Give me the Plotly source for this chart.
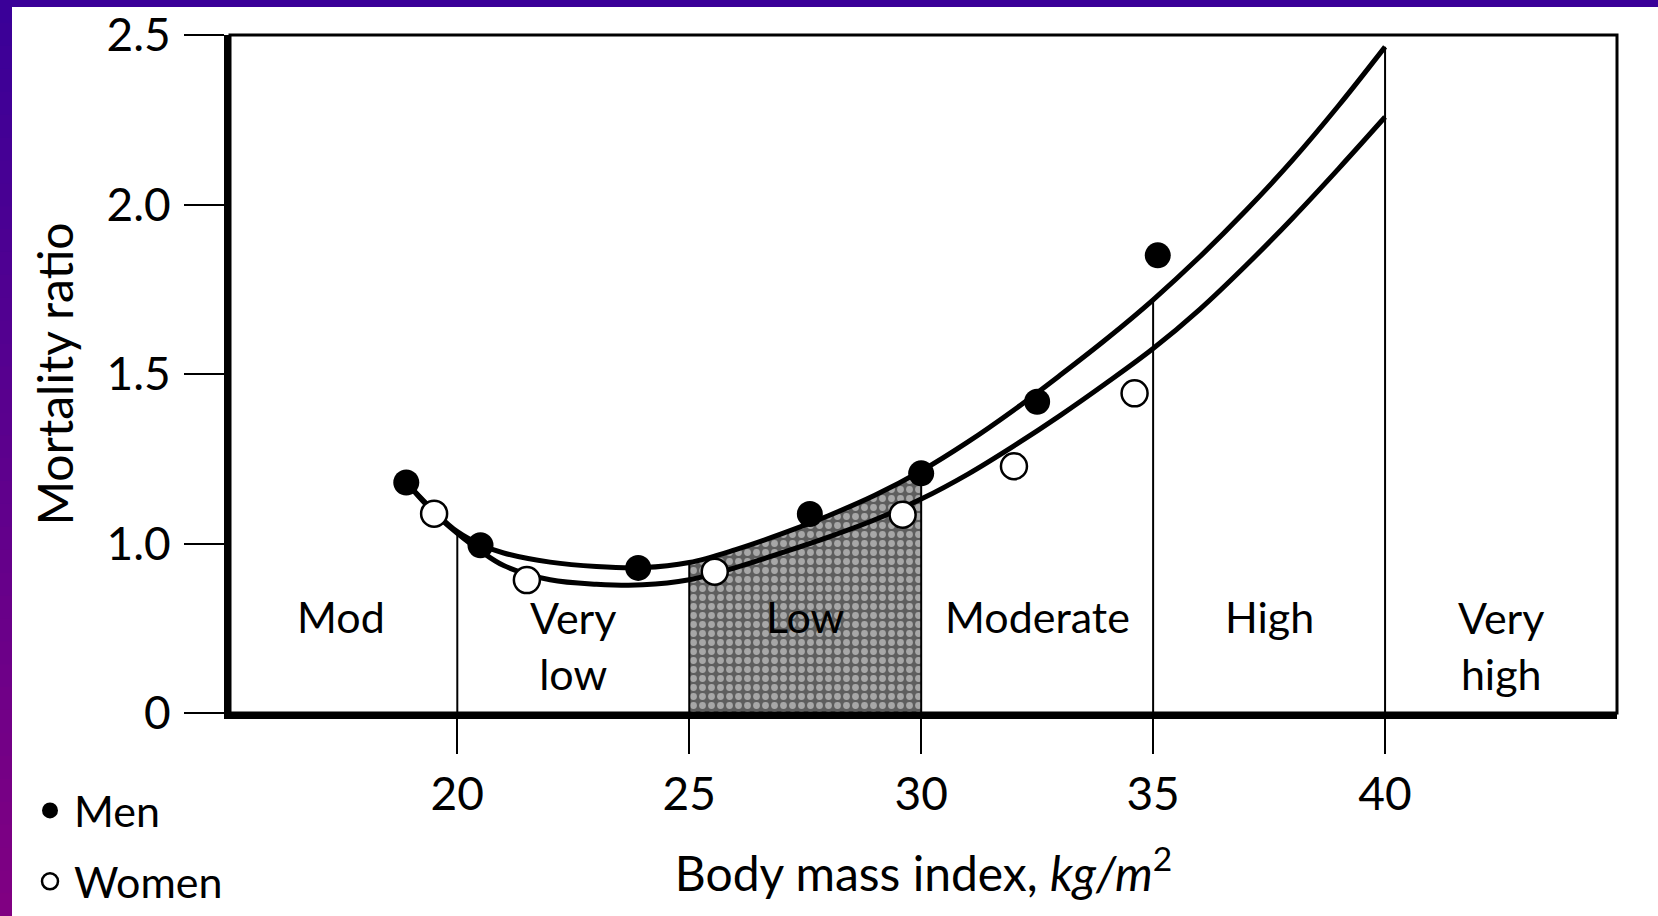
import plotly.graph_objects as go

# ---------------- data ----------------
men_bmi = [18.9, 20.5, 23.9, 27.6, 30.0, 32.5, 35.1]
men_ratio = [1.18, 0.995, 0.928, 1.087, 1.207, 1.418, 1.85]

women_bmi = [19.5, 21.5, 25.55, 29.6, 32.0, 34.6]
women_ratio = [1.088, 0.892, 0.917, 1.085, 1.228, 1.443]

# fitted curves (read at points along each drawn line)
men_curve_bmi = [18.9, 19.5, 20, 20.5, 21, 22, 23, 24, 25, 26, 27, 28, 29, 30,
                 31, 32, 33, 34, 35, 36, 37, 38, 39, 40]
men_curve_ratio = [1.18, 1.095, 1.035, 0.997, 0.972, 0.945, 0.932, 0.929, 0.944, 0.982,
                   1.029, 1.082, 1.142, 1.214, 1.299, 1.394, 1.497, 1.604, 1.719, 1.845,
                   1.982, 2.13, 2.292, 2.465]

women_curve_bmi = [18.9, 19.5, 20, 20.5, 21, 22, 23, 24, 25, 26, 27, 28, 29, 30,
                   31, 32, 33, 34, 35, 36, 37, 38, 39, 40]
women_curve_ratio = [1.18, 1.09, 1.03, 0.978, 0.935, 0.893, 0.880, 0.878, 0.893, 0.929,
                     0.973, 1.019, 1.070, 1.131, 1.204, 1.288, 1.378, 1.474, 1.575, 1.69,
                     1.82, 1.959, 2.106, 2.258]

zone_bounds = [20, 25, 30, 35, 40]
zone_centers = [17.5, 22.5, 27.5, 32.5, 37.5, 42.5]
zone_labels = ["Mod", "Very<br>low", "Low", "Moderate", "High", "Very<br>high"]
shaded_zone = (25, 30)

y_tick_vals = [0.5, 1.0, 1.5, 2.0, 2.5]
y_tick_text = ["0", "1.0", "1.5", "2.0", "2.5"]
x_tick_vals = [20, 25, 30, 35, 40]

# ---------------- styling ----------------
FONT = "Lato"
Y_FLOOR = y_tick_vals[0]   # bottom of the (broken) axis, labelled "0"
X_RANGE = [15.1, 45.0]
Y_RANGE = [Y_FLOOR, 2.5]

W, H = 1658, 916
ML, MR, MT, MB = 230, 41, 35, 203
PW, PH = W - ML - MR, H - MT - MB

def px_x(px):
    return (px - ML) / PW

def px_y(py):
    return (H - MB - py) / PH

fig = go.Figure()

# shaded "Low" zone under the men's curve
idx = [i for i, b in enumerate(men_curve_bmi) if shaded_zone[0] <= b <= shaded_zone[1]]
fig.add_trace(go.Scatter(
    x=[men_curve_bmi[i] for i in idx], y=[men_curve_ratio[i] for i in idx],
    mode="lines", line=dict(width=0, shape="spline", color="#555555"),
    fill="tozeroy", fillcolor="#6a6a6a",
    fillpattern=dict(shape=".", bgcolor="#5e5e5e", fgcolor="#f0f0f0", size=9, solidity=0.45),
    showlegend=False, hoverinfo="skip"))

# zone boundary lines up to the men's curve
for b in zone_bounds:
    top = men_curve_ratio[men_curve_bmi.index(b)]
    fig.add_trace(go.Scatter(x=[b, b], y=[Y_FLOOR, top], mode="lines",
                             line=dict(color="black", width=2),
                             showlegend=False, hoverinfo="skip"))

# curves
fig.add_trace(go.Scatter(x=men_curve_bmi, y=men_curve_ratio, mode="lines",
                         line=dict(color="black", width=5, shape="spline"),
                         showlegend=False, hoverinfo="skip"))
fig.add_trace(go.Scatter(x=women_curve_bmi, y=women_curve_ratio, mode="lines",
                         line=dict(color="black", width=5, shape="spline"),
                         showlegend=False, hoverinfo="skip"))

# points
fig.add_trace(go.Scatter(x=men_bmi, y=men_ratio, mode="markers", name="Men",
                         legendgroup="men",
                         marker=dict(size=26, color="black", line=dict(width=0))))
fig.add_trace(go.Scatter(x=women_bmi, y=women_ratio, mode="markers", name="Women",
                         legendgroup="women",
                         marker=dict(size=26, color="white", line=dict(width=2.5, color="black"))))

# zone labels
for xc, lab in zip(zone_centers, zone_labels):
    two = "<br>" in lab
    fig.add_annotation(x=xc, y=0.70 if two else 0.785, text=lab, showarrow=False,
                       font=dict(family=FONT, size=43, color="black"),
                       xanchor="center", yanchor="middle")

shapes = []
# top/right frame
shapes.append(dict(type="rect", xref="paper", yref="paper", x0=0, x1=1, y0=0, y1=1,
                   line=dict(color="black", width=3), fillcolor="rgba(0,0,0,0)"))
# purple window border: top bar and left gradient strip
shapes.append(dict(type="rect", xref="paper", yref="paper", x0=px_x(0), x1=px_x(W),
                   y0=px_y(7), y1=px_y(0), line=dict(width=0), fillcolor="rgb(58,0,152)"))
N = 40
c0, c1 = (58, 0, 152), (128, 0, 130)
for k in range(N):
    t = k / (N - 1)
    col = "rgb(%d,%d,%d)" % tuple(round(a + (b - a) * t) for a, b in zip(c0, c1))
    shapes.append(dict(type="rect", xref="paper", yref="paper", x0=px_x(0), x1=px_x(12),
                       y0=px_y(H * (k + 1) / N + 1), y1=px_y(H * k / N),
                       line=dict(width=0), fillcolor=col))

fig.update_layout(
    width=W, height=H,
    margin=dict(l=ML, r=MR, t=MT, b=MB, autoexpand=False),
    paper_bgcolor="white", plot_bgcolor="white",
    font=dict(family=FONT, color="black"),
    shapes=shapes,
    showlegend=True,
    legend=dict(x=px_x(26), y=px_y(776), xanchor="left", yanchor="top",
                font=dict(family=FONT, size=43, color="black"),
                bgcolor="rgba(0,0,0,0)", tracegroupgap=12, traceorder="grouped",
                itemsizing="trace", itemwidth=38),
    xaxis=dict(range=X_RANGE, tickvals=x_tick_vals, ticktext=[str(v) for v in x_tick_vals],
               showgrid=False, zeroline=False, showline=True, linecolor="black", linewidth=6,
               ticks="outside", ticklen=35, tickwidth=2, tickcolor="black",
               tickfont=dict(family=FONT, size=46, color="black"), ticklabelstandoff=1,
               title=dict(text="Body mass index, <i>kg/m</i><sup>2</sup>",
                          font=dict(family=FONT, size=48, color="black"), standoff=40)),
    yaxis=dict(range=Y_RANGE, tickvals=y_tick_vals, ticktext=y_tick_text,
               showgrid=False, zeroline=False, showline=True, linecolor="black", linewidth=6,
               ticks="outside", ticklen=40, tickwidth=2, tickcolor="black",
               tickfont=dict(family=FONT, size=46, color="black"), ticklabelstandoff=4,
               title=dict(text="Mortality ratio",
                          font=dict(family=FONT, size=48, color="black"), standoff=20)),
)

fig.write_html("out.html", config={"displayModeBar": False},
               post_script="document.body.style.margin='0';")
